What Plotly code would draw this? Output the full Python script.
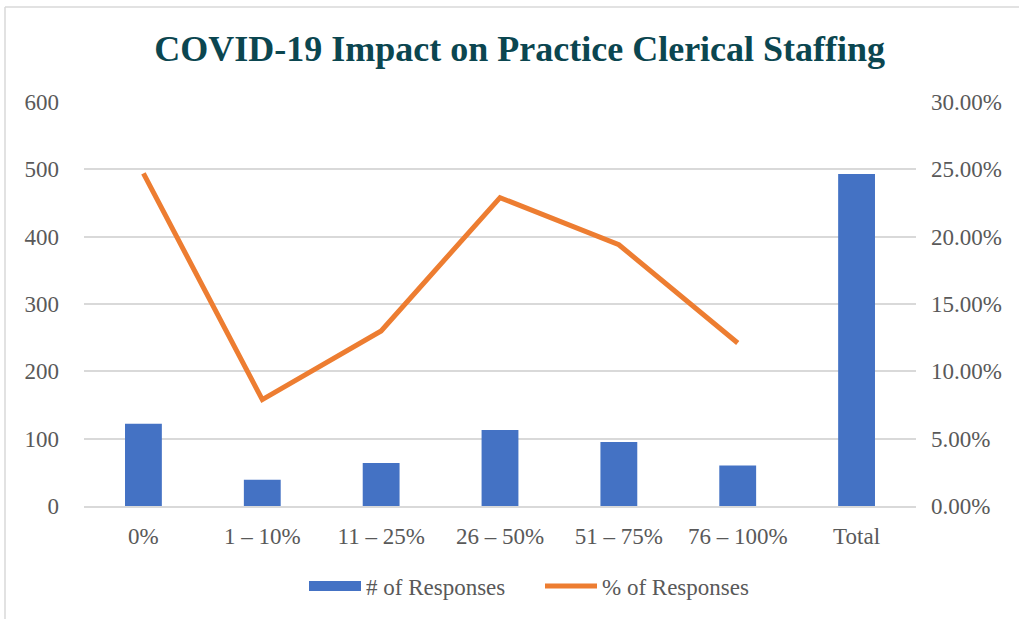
import plotly.graph_objects as go

# Survey results: share of clerical staff affected
categories = ["0%", "1 – 10%", "11 – 25%", "26 – 50%", "51 – 75%", "76 – 100%", "Total"]
responses = [122, 39, 64, 113, 95, 60, 493]
pct_categories = ["0%", "1 – 10%", "11 – 25%", "26 – 50%", "51 – 75%", "76 – 100%"]
pct_responses = [0.247, 0.079, 0.130, 0.229, 0.194, 0.121]

BLUE = "#4472C4"
ORANGE = "#ED7D31"
GRID = "#D9D9D9"
TEXT = "#595959"
FONT = "Liberation Serif"
FS = 23

W, H = 1019, 619
L, R, T, B = 84, 103, 102, 113
pw, ph = W - L - R, H - T - B

fig = go.Figure()
fig.add_trace(go.Bar(
    x=categories, y=responses, name="# of Responses",
    marker=dict(color=BLUE, line=dict(width=0)),
    width=0.31, showlegend=False, yaxis="y",
))
# legend entry for the bars, drawn as a thick swatch
fig.add_trace(go.Scatter(
    x=[None], y=[None], mode="lines", name="# of Responses",
    line=dict(color=BLUE, width=13), yaxis="y",
))
fig.add_trace(go.Scatter(
    x=pct_categories, y=pct_responses, name="% of Responses",
    mode="lines", line=dict(color=ORANGE, width=5), yaxis="y2",
))

# light frame along the top and left edges of the chart area
def px_to_paper_x(px):
    return (px - L) / pw

def px_to_paper_y(py):
    return (H - B - py) / ph

shapes = [
    dict(type="line", xref="paper", yref="paper",
         x0=px_to_paper_x(5), x1=px_to_paper_x(W + 5),
         y0=px_to_paper_y(7), y1=px_to_paper_y(7),
         line=dict(color=GRID, width=1.5)),
    dict(type="line", xref="paper", yref="paper",
         x0=px_to_paper_x(5), x1=px_to_paper_x(5),
         y0=px_to_paper_y(7), y1=px_to_paper_y(H + 5),
         line=dict(color=GRID, width=1.5)),
]

fig.update_layout(
    width=W, height=H,
    margin=dict(l=L, r=R, t=T, b=B),
    paper_bgcolor="white", plot_bgcolor="white",
    font=dict(family=FONT, color=TEXT, size=FS),
    title=dict(
        text="<b>COVID-19 Impact on Practice Clerical Staffing</b>",
        x=0.51, xanchor="center", y=1 - 48 / H, yanchor="middle",
        font=dict(family=FONT, size=36, color="#0B4650"),
    ),
    xaxis=dict(
        type="category", categoryorder="array", categoryarray=categories,
        showgrid=False, showline=True, linecolor=GRID, linewidth=1.5,
        ticks="", ticklabelstandoff=9,
        tickfont=dict(family=FONT, size=FS, color=TEXT),
        range=[-0.5, 6.5],
    ),
    yaxis=dict(
        range=[0, 600], dtick=100, showgrid=True, gridcolor=GRID, gridwidth=1.5,
        zeroline=False, showline=False, ticks="", ticklabelstandoff=24,
        tickfont=dict(family=FONT, size=FS, color=TEXT),
    ),
    yaxis2=dict(
        range=[0, 0.30], dtick=0.05, tickformat=".2%", overlaying="y", side="right",
        showgrid=False, zeroline=False, showline=False, ticks="", ticklabelstandoff=14,
        tickfont=dict(family=FONT, size=FS, color=TEXT),
    ),
    legend=dict(
        orientation="h", x=px_to_paper_x(540), xanchor="center",
        y=px_to_paper_y(586), yanchor="middle",
        font=dict(family=FONT, size=FS, color=TEXT),
        itemwidth=52, entrywidth=169, entrywidthmode="pixels",
        bgcolor="rgba(0,0,0,0)",
    ),
    shapes=shapes,
    bargap=0.69,
)

fig.write_html("out.html")
